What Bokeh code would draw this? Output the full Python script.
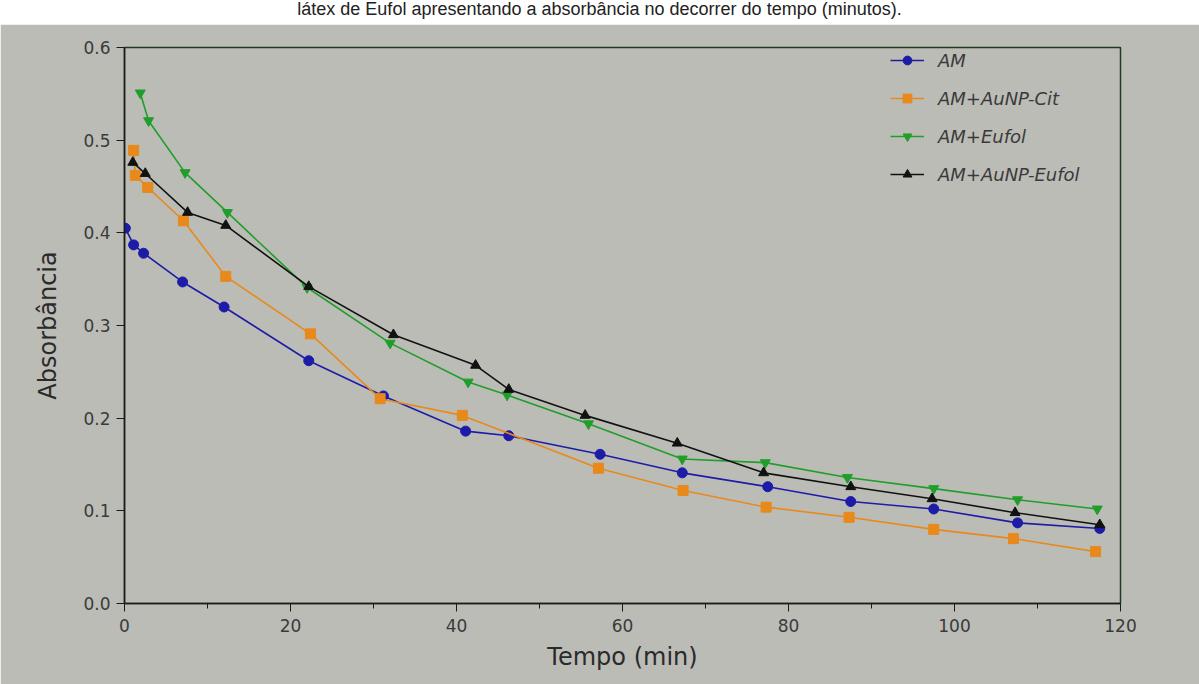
from bokeh.plotting import figure
from bokeh.models import Div, Range1d, FixedTicker, Legend, CustomJSTickFormatter
from bokeh.layouts import column
from bokeh.embed import file_html
from bokeh.resources import INLINE

caption = "látex de Eufol apresentando a absorbância no decorrer do tempo (minutos)."

series_names = ["AM", "AM+AuNP-Cit", "AM+Eufol", "AM+AuNP-Eufol"]

am_t = [0.1, 1.1, 2.3, 7.0, 12.0, 22.2, 31.2, 41.1, 46.3, 57.3, 67.2, 77.5, 87.5, 97.5, 107.6, 117.5]
am_a = [0.405, 0.387, 0.378, 0.347, 0.320, 0.262, 0.224, 0.186, 0.181, 0.161, 0.141, 0.126, 0.110, 0.102, 0.087, 0.081]

cit_t = [1.1, 1.3, 2.8, 7.1, 12.2, 22.4, 30.8, 40.7, 57.1, 67.3, 77.3, 87.3, 97.5, 107.1, 117.0]
cit_a = [0.489, 0.462, 0.449, 0.413, 0.353, 0.291, 0.221, 0.203, 0.146, 0.122, 0.104, 0.093, 0.080, 0.070, 0.056]

euf_t = [1.9, 2.9, 7.3, 12.4, 22.0, 32.0, 41.4, 46.1, 55.9, 67.2, 77.2, 87.1, 97.5, 107.6, 117.2]
euf_a = [0.551, 0.521, 0.465, 0.422, 0.341, 0.281, 0.239, 0.225, 0.194, 0.156, 0.152, 0.136, 0.124, 0.112, 0.102]

aun_t = [1.0, 2.5, 7.6, 12.2, 22.2, 32.4, 42.3, 46.3, 55.5, 66.6, 77.0, 87.5, 97.3, 107.3, 117.5]
aun_a = [0.476, 0.464, 0.422, 0.408, 0.342, 0.290, 0.257, 0.231, 0.203, 0.173, 0.141, 0.126, 0.113, 0.098, 0.085]

x_ticks = [0, 20, 40, 60, 80, 100, 120]
x_minor = [10, 30, 50, 70, 90, 110]
y_ticks = [0.0, 0.1, 0.2, 0.3, 0.4, 0.5, 0.6]

BG = "#bcbcb6"
FONT = "DejaVu Sans"

p = figure(width=1199, height=660, output_backend="svg", toolbar_location=None,
           x_range=Range1d(0, 120), y_range=Range1d(0, 0.6),
           min_border_left=124, min_border_right=79, min_border_top=23, min_border_bottom=81)
p.background_fill_color = BG
p.border_fill_color = BG
p.outline_line_color = "#1f3a1f"
p.outline_line_width = 1.5
p.grid.visible = False

p.xaxis.ticker = FixedTicker(ticks=x_ticks, minor_ticks=x_minor)
p.yaxis.ticker = FixedTicker(ticks=y_ticks)
p.yaxis.formatter = CustomJSTickFormatter(code="return tick.toFixed(1);")

for ax in (p.xaxis, p.yaxis):
    ax.axis_line_color = "#1a1a1a"
    ax.axis_line_width = 1.5
    ax.major_tick_line_color = "#1a1a1a"
    ax.minor_tick_line_color = "#1a1a1a"
    ax.major_tick_out = 8
    ax.major_tick_in = 0
    ax.minor_tick_out = 5
    ax.minor_tick_in = 0
    ax.major_label_text_font = FONT
    ax.major_label_text_font_size = "17px"
    ax.major_label_text_color = "#3a3a3a"
    ax.axis_label_text_font = FONT
    ax.axis_label_text_font_size = "24px"
    ax.axis_label_text_font_style = "normal"
    ax.axis_label_text_color = "#2a2a2a"

p.yaxis.minor_tick_out = 0
p.xaxis.axis_label = "Tempo (min)"
p.yaxis.axis_label = "Absorbância"
p.xaxis.major_label_standoff = 7
p.xaxis.axis_label_standoff = 8
p.yaxis.major_label_standoff = 6
p.yaxis.axis_label_standoff = 18

specs = [
    (am_t, am_a, "#1c1ca8", "circle", series_names[0]),
    (cit_t, cit_a, "#e8891c", "square", series_names[1]),
    (euf_t, euf_a, "#1f9e2a", "inverted_triangle", series_names[2]),
    (aun_t, aun_a, "#111111", "triangle", series_names[3]),
]

items = []
for t, a, col, mk, name in specs:
    r1 = p.line(t, a, line_color=col, line_width=1.6)
    r2 = p.scatter(t, a, marker=mk, size=10, fill_color=col, line_color=col)
    items.append((name, [r1, r2]))

legend = Legend(items=items, location=(756, 408))
legend.background_fill_alpha = 0
legend.border_line_alpha = 0
legend.label_text_font = FONT
legend.label_text_font_style = "italic"
legend.label_text_font_size = "18px"
legend.label_text_color = "#3a3a3a"
legend.glyph_width = 34
legend.glyph_height = 22
legend.label_height = 22
legend.label_standoff = 14
legend.spacing = 16
legend.padding = 10
legend.margin = 0
p.add_layout(legend, "center")

div = Div(text=caption, width=1199, height=24,
          styles={"background-color": "white", "text-align": "center", "width": "1199px",
                  "font-family": "Liberation Sans, Arial", "font-size": "18px", "color": "#222",
                  "line-height": "18px", "margin": "0", "padding": "0"})

layout = column(div, p, spacing=0)
open("out.html", "w").write(file_html(layout, INLINE))
